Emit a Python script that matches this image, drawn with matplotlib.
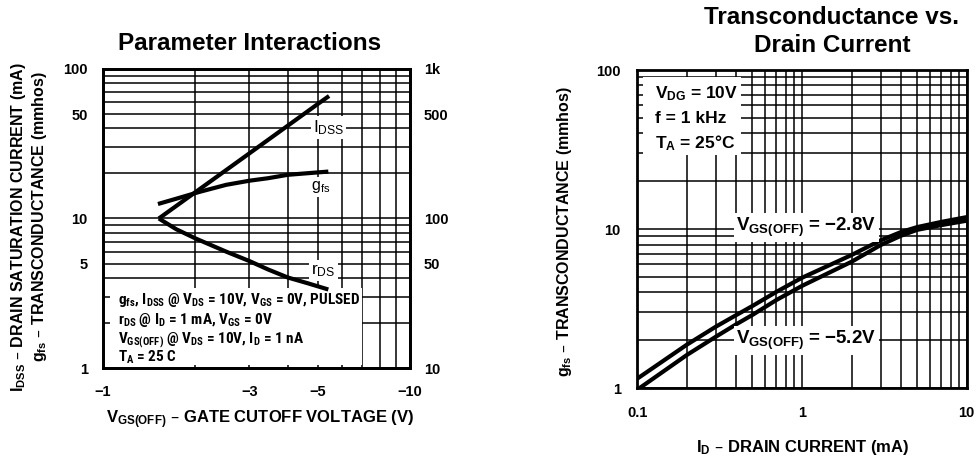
import numpy as np
import matplotlib
matplotlib.use("Agg")
import matplotlib.pyplot as plt
import matplotlib.font_manager as fm
from matplotlib.ticker import FixedLocator, FixedFormatter, NullFormatter, LogLocator
from matplotlib.patches import Rectangle

# ---------------- data ----------------
# Left chart: Parameter Interactions (x = VGS(OFF) in volts)
vgs_idss = [-1.52, -2.0, -3.0, -4.0, -5.0, -5.45]
idss_ma = [10.0, 15.0, 27.3, 41.8, 58.2, 66.0]

vgs_gfs = [-1.51, -1.74, -2.07, -2.52, -3.0, -3.45, -4.0, -4.66, -5.42]
gfs_mmho = [12.5, 13.6, 15.1, 16.8, 17.9, 18.6, 19.6, 20.1, 20.6]

vgs_rds = [-1.52, -1.735, -2.0, -2.52, -3.0, -3.45, -4.0, -4.66, -5.42]
rds_ohm = [100, 84.6, 73.6, 60.0, 51.9, 45.6, 40.3, 36.8, 33.5]

left_xticks = [-1, -3, -5, -10]
left_xticklabels = ["\u22121", "\u22123", "\u22125", "\u221210"]
left_yticks = [1, 5, 10, 50, 100]
left_yticklabels = ["1", "5", "10", "50", "100"]
right2_yticks = [10, 50, 100, 500, 1000]
right2_yticklabels = ["10", "50", "100", "500", "1k"]

# Right chart: Transconductance vs Drain Current
id_ma = [0.1, 0.2, 0.3, 0.4, 0.5, 0.7, 1.0, 2.0, 3.0, 4.0, 5.0, 7.0, 10.0]
gfs_28 = [1.15, 1.88, 2.44, 2.89, 3.29, 4.04, 4.95, 6.88, 8.5, 9.6, 10.3, 11.1, 11.9]
gfs_52 = [0.98, 1.62, 2.11, 2.53, 2.89, 3.59, 4.40, 6.24, 7.94, 9.1, 9.9, 10.6, 11.3]

r_xticks = [0.1, 1, 10]
r_xticklabels = ["0.1", "1", "10"]
r_yticks = [1, 10, 100]
r_yticklabels = ["1", "10", "100"]

# ---------------- fonts ----------------
def pick(names):
    for n in names:
        try:
            fm.findfont(fm.FontProperties(family=n), fallback_to_default=False)
            return n
        except Exception:
            pass
    return "DejaVu Sans"

NARROW = pick(["Liberation Sans Narrow", "Roboto Condensed", "Liberation Sans"])
MAIN = pick(["Liberation Sans", "Arimo", "DejaVu Sans"])

plt.rcParams["font.family"] = [MAIN, "DejaVu Sans"]
plt.rcParams["font.weight"] = "bold"
plt.rcParams["mathtext.default"] = "regular"

fig = plt.figure(figsize=(9.79, 4.61), dpi=100)

GRID_LW = 1.1
SPINE_LW = 2.0
CURVE_LW = 3.0
TICK_FS = 10.5
XLABEL_FS = 12
YLABEL_FS = 11.5
TITLE_FS = 17.5

def style_axes(ax):
    for s in ax.spines.values():
        s.set_linewidth(SPINE_LW)
    ax.tick_params(which="both", length=0, labelsize=TICK_FS)

# ---------------- left chart ----------------
axL = fig.add_axes([103/979, 1-368/461, 307/979, 299/461])
axL.set_xscale("log")
axL.set_yscale("log")
axL.set_xlim(1, 10)
axL.set_ylim(1, 100)
axL.xaxis.set_major_locator(FixedLocator([-v for v in left_xticks]))
axL.xaxis.set_major_formatter(FixedFormatter(left_xticklabels))
axL.xaxis.set_minor_locator(LogLocator(base=10, subs=np.arange(2, 10)))
axL.xaxis.set_minor_formatter(NullFormatter())
axL.yaxis.set_major_locator(FixedLocator(left_yticks))
axL.yaxis.set_major_formatter(FixedFormatter(left_yticklabels))
axL.yaxis.set_minor_locator(LogLocator(base=10, subs=np.arange(2, 10)))
axL.yaxis.set_minor_formatter(NullFormatter())
axL.grid(True, which="both", color="black", linewidth=GRID_LW)
style_axes(axL)
axL.tick_params(axis="x", pad=12)
axL.tick_params(axis="y", pad=11)

axR2 = axL.twinx()
axR2.set_yscale("log")
axR2.set_ylim(10, 1000)
axR2.yaxis.set_major_locator(FixedLocator(right2_yticks))
axR2.yaxis.set_major_formatter(FixedFormatter(right2_yticklabels))
axR2.yaxis.set_minor_formatter(NullFormatter())
style_axes(axR2)
axR2.tick_params(axis="y", pad=10)

axL.plot([-v for v in vgs_idss], idss_ma, color="black", lw=CURVE_LW, zorder=5, solid_capstyle="butt")
axL.plot([-v for v in vgs_gfs], gfs_mmho, color="black", lw=CURVE_LW, zorder=5, solid_capstyle="butt")
axR2.plot([-v for v in vgs_rds], rds_ohm, color="black", lw=CURVE_LW, zorder=5, solid_capstyle="butt")

wb = dict(facecolor="white", edgecolor="none", pad=1.5)
axL.text(5.42, 40.6, "I$_{DSS}$", fontsize=12.5, fontweight="normal", ha="center", va="center", bbox=wb, zorder=6)
axL.text(5.1, 16.3, "g$_{fs}$", fontsize=11.5, fontweight="normal", ha="center", va="center", bbox=wb, zorder=6)
axR2.text(5.23, 45, "r$_{DS}$", fontsize=12.5, fontweight="normal", ha="center", va="center", bbox=wb, zorder=6)

axL.add_patch(Rectangle((0.023, 0.01), 0.82, 0.258, transform=axL.transAxes,
                        facecolor="white", edgecolor="none", zorder=3))
notes = ["g$_{fs}$, I$_{DSS}$ @ V$_{DS}$ = 10V, V$_{GS}$ = 0V, PULSED",
         "r$_{DS}$ @ I$_D$ = 1 mA, V$_{GS}$ = 0V",
         "V$_{GS(OFF)}$ @ V$_{DS}$ = 10V, I$_D$ = 1 nA",
         "T$_A$ = 25 C"]
for txt, yy in zip(notes, [0.214, 0.147, 0.084, 0.020]):
    axL.text(0.049, yy, txt, transform=axL.transAxes, fontsize=11, fontweight="bold",
             family=[NARROW, "DejaVu Sans"], ha="left", va="baseline", zorder=7)

fig.text(250/979, 1-43/461, "Parameter Interactions",
         fontsize=TITLE_FS, fontweight="bold", ha="center", va="center")
fig.text(19/979, 1-227/461, "I$_{DSS}$ \u2013 DRAIN SATURATION CURRENT (mA)", rotation=90,
         fontsize=YLABEL_FS, ha="center", va="center")
fig.text(40/979, 1-217/461, "g$_{fs}$ \u2013 TRANSCONDUCTANCE (mmhos)", rotation=90,
         fontsize=YLABEL_FS, ha="center", va="center")
fig.text(260/979, 1-420/461, "V$_{GS(OFF)}$ \u2013 GATE CUTOFF VOLTAGE (V)",
         fontsize=XLABEL_FS, ha="center", va="center")

# ---------------- right chart ----------------
axB = fig.add_axes([637.3/979, 1-388.3/461, 329.4/979, 318.3/461])
axB.set_xscale("log")
axB.set_yscale("log")
axB.set_xlim(0.1, 10)
axB.set_ylim(1, 100)
axB.xaxis.set_major_locator(FixedLocator(r_xticks))
axB.xaxis.set_major_formatter(FixedFormatter(r_xticklabels))
axB.xaxis.set_minor_locator(LogLocator(base=10, subs=np.arange(2, 10)))
axB.xaxis.set_minor_formatter(NullFormatter())
axB.yaxis.set_major_locator(FixedLocator(r_yticks))
axB.yaxis.set_major_formatter(FixedFormatter(r_yticklabels))
axB.yaxis.set_minor_locator(LogLocator(base=10, subs=np.arange(2, 10)))
axB.yaxis.set_minor_formatter(NullFormatter())
axB.grid(True, which="both", color="black", linewidth=GRID_LW)
style_axes(axB)
axB.tick_params(axis="x", pad=13)
axB.tick_params(axis="y", pad=12)

axB.plot(id_ma, gfs_28, color="black", lw=CURVE_LW, zorder=5)
axB.plot(id_ma, gfs_52, color="black", lw=CURVE_LW, zorder=5)

axB.add_patch(Rectangle((0.017, 0.733), 0.298, 0.245, transform=axB.transAxes,
                        facecolor="white", edgecolor="none", zorder=3))
cond = ["V$_{DG}$ = 10V", "f = 1 kHz", "T$_A$ = 25\u00b0C"]
for txt, yy in zip(cond, [0.912, 0.833, 0.755]):
    axB.text(0.054, yy, txt, transform=axB.transAxes, fontsize=12.5,
             ha="left", va="baseline", zorder=7)

wb2 = dict(facecolor="white", edgecolor="none", pad=2)
axB.text(0.40, 10.3, "V$_{GS(OFF)}$ = \u22122.8V", fontsize=13.5, ha="left", va="center", bbox=wb2, zorder=6)
axB.text(0.40, 2.0, "V$_{GS(OFF)}$ = \u22125.2V", fontsize=13.5, ha="left", va="center", bbox=wb2, zorder=6)

fig.text(832/979, 1-17/461, "Transconductance vs.",
         fontsize=TITLE_FS, fontweight="bold", ha="center", va="center")
fig.text(832/979, 1-45/461, "Drain Current",
         fontsize=TITLE_FS, fontweight="bold", ha="center", va="center")
fig.text(565/979, 1-232/461, "g$_{fs}$ \u2013 TRANSCONDUCTANCE (mmhos)", rotation=90,
         fontsize=YLABEL_FS, ha="center", va="center")
fig.text(803/979, 1-447/461, "I$_D$ \u2013 DRAIN CURRENT (mA)",
         fontsize=XLABEL_FS, ha="center", va="center")

fig.savefig("out.png", dpi=100)
